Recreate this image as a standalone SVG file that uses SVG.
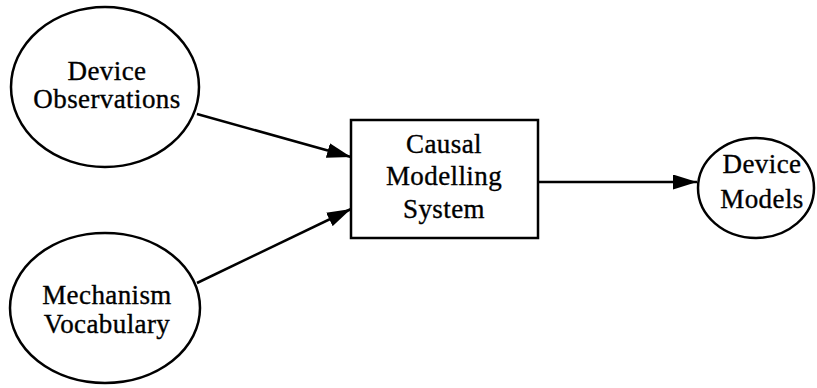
<svg xmlns="http://www.w3.org/2000/svg" width="817" height="388" viewBox="0 0 817 388">
  <style>
    .shape { fill: #fff; stroke: #000; stroke-width: 2.5; }
    .label { font-family: "Liberation Serif", "Times New Roman", serif; font-size: 27px; letter-spacing: 0.4px; fill: #000; stroke: #000; stroke-width: 0.35; text-anchor: middle; }
    .edge { stroke: #000; stroke-width: 2.5; fill: none; marker-end: url(#head); }
  </style>
  <defs>
    <marker id="head" viewBox="0 0 24 15" refX="24" refY="7.5" markerWidth="24" markerHeight="15" markerUnits="userSpaceOnUse" orient="auto">
      <path d="M0,0 L24,7.5 L0,15 Z" fill="#000"/>
    </marker>
  </defs>
  <rect width="817" height="388" fill="#fff"/>

  <g id="connectors">
    <line class="edge" x1="197" y1="114" x2="351" y2="157"/>
    <line class="edge" x1="197" y1="283" x2="351" y2="209"/>
    <line class="edge" x1="538" y1="182" x2="697" y2="182"/>
  </g>

  <g id="device-observations">
    <ellipse class="shape" cx="105" cy="87" rx="94" ry="80"/>
    <text class="label" x="107" y="80">Device</text>
    <text class="label" x="107" y="108">Observations</text>
  </g>

  <g id="mechanism-vocabulary">
    <ellipse class="shape" cx="105" cy="308" rx="95" ry="75"/>
    <text class="label" x="107" y="304">Mechanism</text>
    <text class="label" x="107" y="333">Vocabulary</text>
  </g>

  <g id="causal-modelling-system">
    <rect class="shape" x="351" y="120" width="187" height="118"/>
    <text class="label" x="444" y="153">Causal</text>
    <text class="label" x="444" y="185">Modelling</text>
    <text class="label" x="444" y="218">System</text>
  </g>

  <g id="device-models">
    <ellipse class="shape" cx="756" cy="188" rx="58" ry="50"/>
    <text class="label" x="762" y="173">Device</text>
    <text class="label" x="762" y="208">Models</text>
  </g>
</svg>
